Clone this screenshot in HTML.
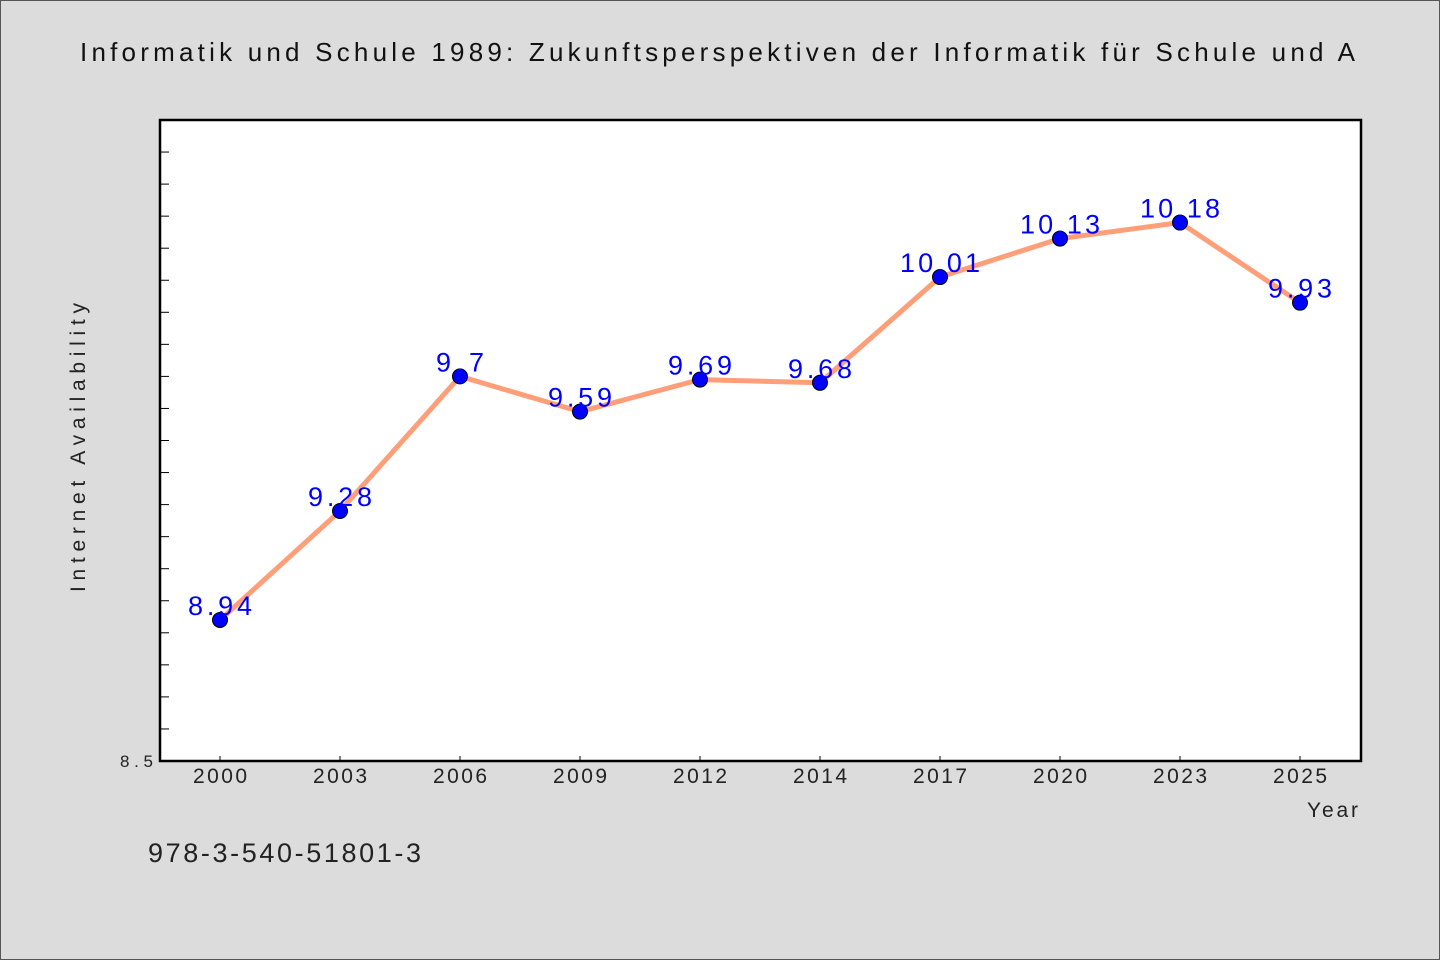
<!DOCTYPE html>
<html><head><meta charset="utf-8"><style>
html,body{margin:0;padding:0;background:#dcdcdc;}
svg{display:block;font-family:"WenQuanYi Zen Hei Mono","WenQuanYi Zen Hei","Liberation Sans",sans-serif;}
</style></head><body>
<svg id="chart" width="1440" height="960" xmlns="http://www.w3.org/2000/svg">
<rect x="0.5" y="0.5" width="1439" height="959" fill="#dcdcdc" stroke="#555"/>
<text x="80" y="61" textLength="1275" lengthAdjust="spacing" font-size="26" fill="#111">Informatik und Schule 1989: Zukunftsperspektiven der Informatik für Schule und A</text>
<rect x="160" y="120" width="1201" height="641" fill="#fff" stroke="#000" stroke-width="2.5"/>
<g id="ticks"></g>
<g id="series"></g>
<text x="85" y="592" textLength="289" lengthAdjust="spacing" font-size="21" fill="#222" transform="rotate(-90 85 592)">Internet Availability</text>
<text x="1307" y="817" textLength="51" lengthAdjust="spacing" font-size="21" fill="#222">Year</text>
<text x="148" y="862" textLength="273" lengthAdjust="spacing" font-size="27" fill="#222">978-3-540-51801-3</text>
</svg>
<script>
const categories=["2000","2003","2006","2009","2012","2014","2017","2020","2023","2025"];
const values=[8.94,9.28,9.7,9.59,9.69,9.68,10.01,10.13,10.18,9.93];
const yTickLabels=["8.5"];
const yMin=8.5,yMax=10.5;
const NS="http://www.w3.org/2000/svg";
const L=160,R=1361,T=120,B=761;
function xs(i){return 220+i*120;}
function ys(v){return B-(v-yMin)/(yMax-yMin)*(B-T);}
function mk(tag,attrs,parent){const e=document.createElementNS(NS,tag);for(const k in attrs)e.setAttribute(k,attrs[k]);parent.appendChild(e);return e;}
const tg=document.getElementById('ticks');
for(let k=1;k<20;k++){const v=yMin+k*0.1;const y=ys(v);
const t=mk('line',{x1:L,x2:L+9,y1:y,y2:y,stroke:'#000','stroke-width':1},tg);

}
const yl=mk('text',{x:120,y:ys(8.5)+6,textLength:33,lengthAdjust:'spacing','font-size':17,fill:'#222'},tg);yl.textContent=yTickLabels[0];


categories.forEach((c,i)=>{const x=xs(i);
const t=mk('line',{x1:x,x2:x,y1:B,y2:B-5,stroke:'#000','stroke-width':1},tg);


const l=mk('text',{x:x-27,y:783,textLength:54,lengthAdjust:'spacing','font-size':21,fill:'#222'},tg);l.textContent=c;

});
const sg=document.getElementById('series');
const pl=mk('polyline',{points:values.map((v,i)=>xs(i)+','+ys(v)).join(' '),fill:'none',stroke:'#ff9f7a','stroke-width':5,'stroke-linejoin':'round'},sg);


values.forEach((v,i)=>{
const c=mk('circle',{cx:xs(i),cy:ys(v),r:7.5,fill:'#0000ff',stroke:'#000','stroke-width':1},sg);


const s=String(v);const w=s.length*16;
const t=mk('text',{x:xs(i)-w/2,y:ys(v)-5,textLength:w,lengthAdjust:'spacing','font-size':27,fill:'#0000ff'},sg);t.textContent=s;

});
</script>
</body></html>
